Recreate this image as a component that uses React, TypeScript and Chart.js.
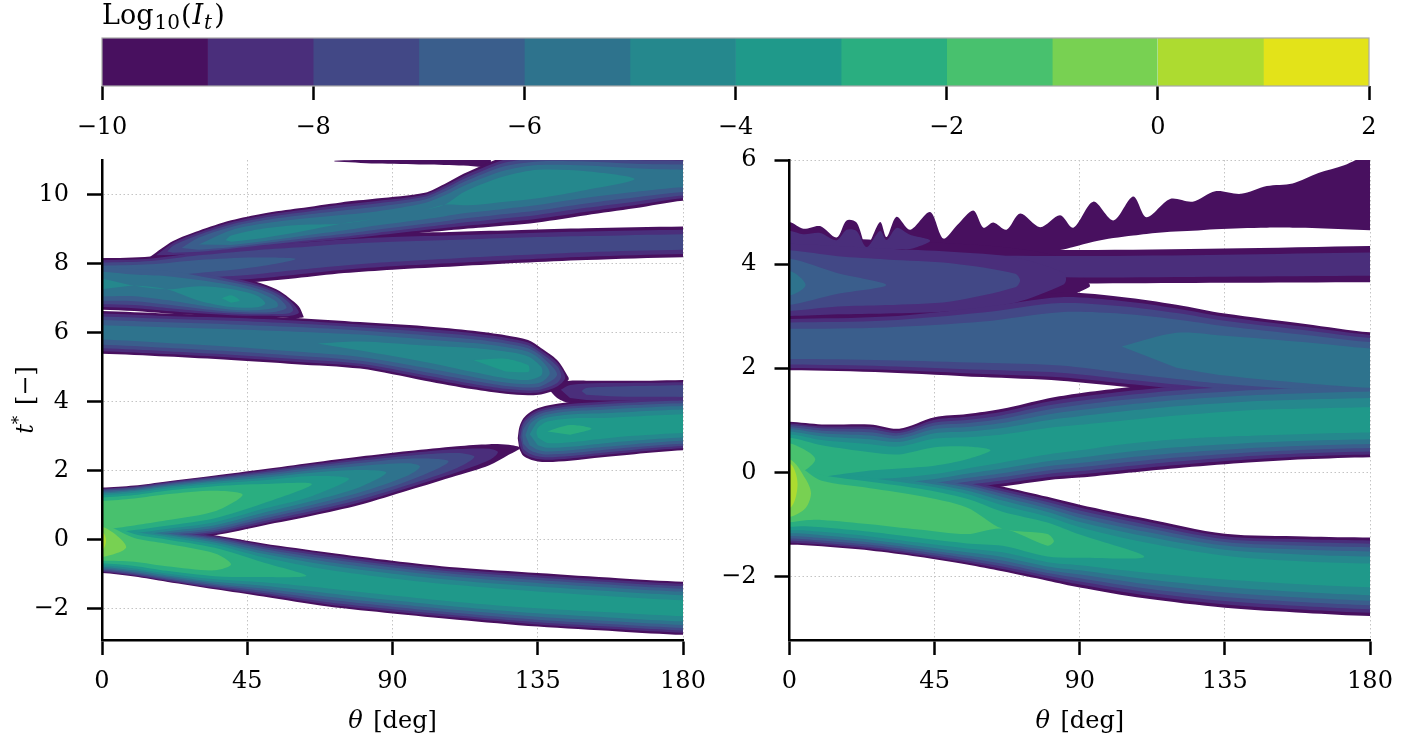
import React, { useEffect, useRef } from 'react';
import { Chart, registerables } from 'chart.js';

Chart.register(...registerables);

const FONT = "'DejaVu Serif', 'Liberation Serif', serif";
const TICK_SIZE = 24;
Chart.defaults.font.family = FONT;
Chart.defaults.color = '#000';

// ---------- colour levels (log10 intensity) ----------
const LEVEL_BOUNDS = [-10, -9, -8, -7, -6, -5, -4, -3, -2, -1, 0, 1, 2];
const LEVEL_COLORS = ['#48105f', '#4a2e7b', '#424886', '#3a5e8c', '#2e738d', '#25888d', '#1f998a', '#2aae80', '#48c16e', '#78d152', '#addb30', '#e3e319'];
const CB_TICKS = [-10, -8, -6, -4, -2, 0, 2];

// ---------- axes ----------
const THETA_RANGE = [0, 180];
const THETA_TICKS = [0, 45, 90, 135, 180];
const LEFT_T_TICKS = [-2, 0, 2, 4, 6, 8, 10];
const RIGHT_T_TICKS = [-2, 0, 2, 4, 6];
const LEFT_T_RANGE = [-2.92, 11];
const RIGHT_T_RANGE = [-3.22, 6];

// ---------- left panel branches (theta [deg], t* edges at log10 = -10, ridge, peak log10) ----------
const LA_TH = [0, 10, 20, 35, 50, 70, 90, 110, 135, 160, 180];
const LA_HI = [0.7, 0.45, 0.3, 0.12, -0.12, -0.38, -0.62, -0.82, -0.98, -1.13, -1.23];
const LA_LO = [-0.98, -1.08, -1.23, -1.45, -1.66, -1.95, -2.15, -2.33, -2.53, -2.67, -2.77];
const LA_MID = [0.0, -0.3, -0.45, -0.65, -0.88, -1.15, -1.38, -1.57, -1.76, -1.9, -2.0];
const LA_PK = [0.2, -1.4, -1.5, -1.7, -2.6, -3.2, -3.3, -3.3, -3.35, -3.4, -3.4];
const LA_E = [0.3, 0.3, 0.3, 0.35, 0.45, 0.5, 0.5, 0.5, 0.5, 0.5, 0.5];

const LB_TH = [0, 10, 20, 35, 50, 65, 80, 95, 110, 120, 126, 129.5];
const LB_HI = [1.5, 1.56, 1.68, 1.85, 2.03, 2.22, 2.4, 2.56, 2.7, 2.76, 2.74, 2.65];
const LB_LO = [-0.2, -0.1, 0.0, 0.12, 0.4, 0.68, 1.0, 1.42, 1.85, 2.15, 2.45, 2.65];
const LB_MID = [0.75, 0.85, 1.0, 1.18, 1.38, 1.6, 1.8, 2.05, 2.3, 2.47, 2.6, 2.65];
const LB_PK = [-1.2, -1.3, -1.4, -1.6, -2.3, -3.0, -4.3, -5.6, -7.3, -8.6, -9.5, -9.95];
const LB_E = [0.3, 0.3, 0.3, 0.35, 0.45, 0.5, 0.5, 0.5, 0.5, 0.5, 0.5, 0.5];

const LC_TH = [128.8, 129.3, 130.5, 132.5, 135, 138, 145, 155, 165, 180];
const LC_HI = [2.93, 3.25, 3.5, 3.68, 3.8, 3.88, 3.98, 4.05, 4.1, 4.15];
const LC_LO = [2.93, 2.62, 2.42, 2.32, 2.26, 2.24, 2.28, 2.38, 2.47, 2.58];
const LC_MID = [2.93, 2.95, 3.0, 3.05, 3.1, 3.13, 3.18, 3.22, 3.28, 3.35];
const LC_PK = [-10, -8.5, -6.5, -5.0, -3.8, -3.0, -2.8, -3.1, -3.2, -3.2];

const LD_TH = [138, 141, 145, 150, 160, 170, 180];
const LD_HI = [4.45, 4.55, 4.6, 4.6, 4.6, 4.6, 4.62];
const LD_LO = [4.4, 4.1, 3.95, 3.95, 3.95, 3.97, 3.98];
const LD_MID = [4.42, 4.35, 4.3, 4.3, 4.3, 4.3, 4.3];
const LD_PK = [-9.8, -9.2, -8.5, -7.8, -7.5, -7.3, -7.2];

const LE_TH = [0, 20, 40, 60, 80, 100, 115, 125, 132, 136, 141, 144.5];
const LE_HI = [6.62, 6.55, 6.5, 6.42, 6.3, 6.18, 6.05, 5.92, 5.78, 5.55, 5.2, 4.7];
const LE_LO = [5.38, 5.3, 5.2, 5.08, 4.95, 4.6, 4.35, 4.22, 4.18, 4.2, 4.35, 4.62];
const LE_MID = [6.0, 5.92, 5.83, 5.72, 5.6, 5.38, 5.2, 5.05, 4.95, 4.88, 4.78, 4.66];
const LE_PK = [-5.5, -5.4, -5.3, -5.1, -4.8, -4.5, -4.0, -3.7, -3.9, -4.8, -7.0, -9.8];

const LF_TH = [0, 10, 20, 30, 40, 48, 54, 58, 61, 62.5];
const LF_HI = [8.15, 8.15, 8.1, 7.9, 7.65, 7.46, 7.25, 7.0, 6.75, 6.45];
const LF_LO = [6.66, 6.62, 6.55, 6.5, 6.46, 6.44, 6.43, 6.42, 6.42, 6.44];
const LF_MID = [7.4, 7.35, 7.25, 7.1, 6.95, 6.87, 6.8, 6.7, 6.58, 6.45];
const LF_PK = [-4.8, -5.2, -5.0, -4.5, -3.8, -4.4, -5.8, -7.3, -9.0, -9.95];

const LG_TH = [0, 15, 30, 47, 60, 75, 90, 110, 130, 150, 180];
const LG_HI = [8.15, 8.2, 8.4, 8.6, 8.7, 8.8, 8.87, 8.92, 8.97, 9.02, 9.07];
const LG_LO = [7.3, 7.35, 7.4, 7.46, 7.57, 7.72, 7.82, 7.92, 8.02, 8.1, 8.18];
const LG_MID = [7.75, 7.8, 7.92, 8.03, 8.13, 8.24, 8.33, 8.42, 8.5, 8.56, 8.62];
const LG_PK = [-6.2, -6.3, -6.5, -6.8, -7.0, -7.0, -7.1, -7.2, -7.2, -7.3, -7.3];

const LH_TH = [15, 22, 30, 40, 50, 61, 74, 85, 100, 106, 112, 118, 125, 135, 150, 165, 180];
const LH_HI = [8.2, 8.65, 8.95, 9.25, 9.45, 9.6, 9.77, 9.88, 10.05, 10.3, 10.6, 10.85, 11.1, 11.2, 11.2, 11.15, 11.15];
const LH_LO = [8.15, 8.2, 8.25, 8.35, 8.45, 8.55, 8.65, 8.75, 8.9, 8.95, 9.0, 9.04, 9.1, 9.19, 9.4, 9.6, 9.82];
const LH_MID = [8.18, 8.4, 8.55, 8.7, 8.85, 9.0, 9.15, 9.3, 9.55, 9.7, 9.9, 10.05, 10.2, 10.38, 10.45, 10.45, 10.45];
const LH_PK = [-9.5, -7.5, -6.0, -4.8, -4.6, -4.8, -5.2, -5.4, -5.2, -5.0, -4.7, -4.4, -4.2, -4.0, -4.5, -5.0, -5.3];

const LI_TH = [72, 85, 100, 112, 120];
const LI_HI = [10.98, 11.02, 11.05, 11.1, 11.1];
const LI_LO = [10.96, 10.9, 10.87, 10.84, 10.82];
const LI_MID = [10.97, 10.96, 10.96, 10.97, 10.96];
const LI_PK = [-9.6, -9.6, -9.6, -9.6, -9.6];

// ---------- right panel branches ----------
const RA_TH = [0, 5, 10, 25, 40, 55, 66, 80, 90, 110, 135, 160, 180];
const RA_HI = [0.5, 0.35, 0.25, 0.12, 0.0, -0.13, -0.27, -0.47, -0.62, -0.88, -1.18, -1.23, -1.25];
const RA_LO = [-1.39, -1.4, -1.42, -1.5, -1.62, -1.77, -1.9, -2.08, -2.21, -2.42, -2.6, -2.7, -2.76];
const RA_MID = [-0.1, -0.35, -0.5, -0.62, -0.75, -0.92, -1.08, -1.3, -1.42, -1.62, -1.8, -1.92, -1.97];
const RA_PK = [0.8, -0.8, -1.4, -1.5, -1.6, -1.7, -2.2, -1.9, -2.4, -3.0, -3.3, -3.4, -3.4];
const RA_E = [0.3, 0.3, 0.3, 0.3, 0.3, 0.35, 0.4, 0.45, 0.5, 0.5, 0.5, 0.5, 0.5];

const RB_TH = [0, 10, 25, 34, 45, 55, 66, 80, 90, 103, 120, 140, 160, 180];
const RB_HI = [0.97, 0.92, 0.92, 0.84, 1.06, 1.12, 1.22, 1.42, 1.52, 1.62, 1.72, 1.8, 1.86, 1.9];
const RB_LO = [-0.6, -0.6, -0.55, -0.5, -0.42, -0.35, -0.27, -0.15, -0.1, -0.02, 0.08, 0.18, 0.25, 0.29];
const RB_MID = [0.25, 0.25, 0.22, 0.22, 0.3, 0.37, 0.45, 0.58, 0.65, 0.75, 0.85, 0.92, 0.95, 0.97];
const RB_PK = [-1.2, -2.2, -2.7, -2.8, -2.7, -2.8, -3.1, -3.3, -3.4, -3.5, -3.5, -3.4, -3.4, -3.4];
const RB_E = [0.35, 0.4, 0.45, 0.45, 0.45, 0.5, 0.5, 0.5, 0.5, 0.5, 0.5, 0.5, 0.5, 0.5];

const RC_TH = [0, 30, 60, 84, 103, 120, 135, 160, 180];
const RC_HI = [3.0, 3.05, 3.25, 3.45, 3.37, 3.22, 3.05, 2.85, 2.69];
const RC_LO = [1.96, 1.92, 1.83, 1.76, 1.65, 1.55, 1.48, 1.4, 1.35];
const RC_MID = [2.45, 2.45, 2.45, 2.5, 2.42, 2.32, 2.22, 2.08, 1.98];
const RC_PK = [-6.5, -6.5, -6.5, -6.3, -6.0, -5.8, -5.6, -5.4, -5.3];

const RD_TH = [0, 15, 30, 50, 70, 85, 93];
const RD_HI = [4.5, 4.5, 4.45, 4.4, 4.3, 4.1, 3.62];
const RD_LO = [2.92, 2.92, 2.93, 2.96, 3.1, 3.35, 3.56];
const RD_MID = [3.6, 3.6, 3.6, 3.62, 3.68, 3.72, 3.59];
const RD_PK = [-5.6, -6.8, -7.0, -7.3, -7.9, -8.9, -9.95];

const RE_TH = [0, 45, 90, 135, 180];
const RE_HI = [4.3, 4.28, 4.27, 4.3, 4.35];
const RE_LO = [3.7, 3.66, 3.63, 3.64, 3.65];
const RE_MID = [4.0, 3.97, 3.95, 3.97, 4.0];
const RE_PK = [-8.3, -8.3, -8.3, -8.3, -8.3];

const RT_TH = [0, 4.3, 9.5, 14.6, 17.7, 20.8, 23.9, 28.1, 30.1, 33.2, 37.4, 43.6, 47.7, 52, 57, 60.1, 63.2, 67.3, 71.5, 77.7, 83.9, 88, 94.2, 100.4, 106.6, 110.7, 118, 125, 132, 140, 148, 156, 164, 172, 180];
const RT_HI = [4.81, 4.68, 4.73, 4.51, 4.84, 4.8, 4.35, 4.81, 4.52, 4.91, 4.66, 5.0, 4.49, 4.75, 5.03, 4.7, 4.8, 4.66, 4.97, 4.71, 4.94, 4.7, 5.2, 4.84, 5.3, 4.9, 5.25, 5.2, 5.4, 5.35, 5.5, 5.55, 5.75, 5.9, 6.1];
const RT_LO = [4.15, 4.15, 4.15, 4.15, 4.15, 4.15, 4.15, 4.15, 4.15, 4.15, 4.15, 4.15, 4.15, 4.18, 4.18, 4.2, 4.2, 4.2, 4.22, 4.24, 4.27, 4.33, 4.43, 4.5, 4.55, 4.58, 4.62, 4.64, 4.67, 4.69, 4.7, 4.7, 4.69, 4.67, 4.65];
const RT_MID = [4.45, 4.45, 4.45, 4.4, 4.45, 4.45, 4.3, 4.45, 4.4, 4.45, 4.45, 4.45, 4.35, 4.45, 4.47, 4.48, 4.5, 4.5, 4.52, 4.52, 4.55, 4.58, 4.65, 4.7, 4.75, 4.78, 4.85, 4.9, 4.95, 5.0, 5.05, 5.1, 5.15, 5.2, 5.25];
const RT_PK = [-8.6, -8.6, -8.6, -8.6, -8.6, -8.6, -8.6, -8.6, -8.6, -8.6, -8.6, -9.0, -9.0, -9.0, -9.0, -9.0, -9.0, -9.0, -9.4, -9.4, -9.4, -9.4, -9.4, -9.4, -9.4, -9.4, -9.4, -9.4, -9.4, -9.4, -9.4, -9.4, -9.4, -9.4, -9.4];

type Branch = { th: number[]; hi: number[]; lo: number[]; mid: number[]; pk: number[]; e: number | number[] };
const br = (th: number[], hi: number[], lo: number[], mid: number[], pk: number[], e: number | number[] = 0.5): Branch => ({ th, hi, lo, mid, pk, e });

const LEFT_BRANCHES: Branch[] = [
  br(LA_TH, LA_HI, LA_LO, LA_MID, LA_PK, LA_E),
  br(LB_TH, LB_HI, LB_LO, LB_MID, LB_PK, LB_E),
  br(LC_TH, LC_HI, LC_LO, LC_MID, LC_PK),
  br(LD_TH, LD_HI, LD_LO, LD_MID, LD_PK),
  br(LE_TH, LE_HI, LE_LO, LE_MID, LE_PK),
  br(LF_TH, LF_HI, LF_LO, LF_MID, LF_PK),
  br(LG_TH, LG_HI, LG_LO, LG_MID, LG_PK),
  br(LH_TH, LH_HI, LH_LO, LH_MID, LH_PK),
  br(LI_TH, LI_HI, LI_LO, LI_MID, LI_PK),
];
const RIGHT_BRANCHES: Branch[] = [
  br(RA_TH, RA_HI, RA_LO, RA_MID, RA_PK, RA_E),
  br(RB_TH, RB_HI, RB_LO, RB_MID, RB_PK, RB_E),
  br(RC_TH, RC_HI, RC_LO, RC_MID, RC_PK, 0.3),
  br(RD_TH, RD_HI, RD_LO, RD_MID, RD_PK),
  br(RE_TH, RE_HI, RE_LO, RE_MID, RE_PK),
  br(RT_TH, RT_HI, RT_LO, RT_MID, RT_PK),
];

// ---------- contour-band polygons ----------
type Pt = { x: number; y: number };
const EDGE_RUN = 12; // bands that reach the plot edge run on past it (clipped away)
function bandPoints(b: Branch, level: number): Pt[] | null {
  const v = LEVEL_BOUNDS[level];
  const n = b.th.length;
  const ex = (i: number) => (Array.isArray(b.e) ? b.e[i] : b.e);
  const f = b.pk.map((p, i) => (p > v ? Math.pow((p - v) / (p + 10), ex(i)) : 0));
  const first = f.findIndex((x) => x > 0);
  if (first < 0) return null;
  let last = n - 1;
  while (f[last] <= 0) last--;
  const up: Pt[] = [];
  const dn: Pt[] = [];
  const tip = (i: number, j: number) => {
    const a = (v - b.pk[i]) / (b.pk[j] - b.pk[i]);
    const p = { x: b.th[i] + a * (b.th[j] - b.th[i]), y: b.mid[i] + a * (b.mid[j] - b.mid[i]) };
    up.push(p);
    dn.push({ ...p });
  };
  const edgeY = (i: number) => [b.mid[i] + (b.hi[i] - b.mid[i]) * f[i], b.mid[i] - (b.mid[i] - b.lo[i]) * f[i]];
  if (first > 0) tip(first - 1, first);
  else if (b.th[0] <= THETA_RANGE[0]) {
    const [yu, yd] = edgeY(0);
    up.push({ x: b.th[0] - EDGE_RUN, y: yu });
    dn.push({ x: b.th[0] - EDGE_RUN, y: yd });
  }
  for (let i = first; i <= last; i++) {
    const [yu, yd] = edgeY(i);
    up.push({ x: b.th[i], y: yu });
    dn.push({ x: b.th[i], y: yd });
  }
  if (last < n - 1) tip(last + 1, last);
  else if (b.th[n - 1] >= THETA_RANGE[1]) {
    const [yu, yd] = edgeY(n - 1);
    up.push({ x: b.th[n - 1] + EDGE_RUN, y: yu });
    dn.push({ x: b.th[n - 1] + EDGE_RUN, y: yd });
  }
  const raw = [...up, ...dn.reverse()];
  const pts: Pt[] = [];
  for (const p of raw) {
    const q = pts[pts.length - 1];
    if (!q || Math.abs(q.x - p.x) > 1e-9 || Math.abs(q.y - p.y) > 1e-9) pts.push(p);
  }
  const p0 = pts[0];
  const pl = pts[pts.length - 1];
  if (pts.length > 1 && Math.abs(p0.x - pl.x) < 1e-9 && Math.abs(p0.y - pl.y) < 1e-9) pts.pop();
  return pts.length > 2 ? pts : null;
}

function buildDatasets(branches: Branch[]) {
  const out: any[] = [];
  for (let level = LEVEL_COLORS.length - 1; level >= 0; level--) {
    for (const b of branches) {
      const pts = bandPoints(b, level);
      if (!pts) continue;
      out.push({
        data: pts,
        showLine: true,
        fill: 'shape',
        backgroundColor: LEVEL_COLORS[level],
        borderWidth: 0,
        pointRadius: 0,
        pointHoverRadius: 0,
        tension: 0.3,
      });
    }
  }
  return out;
}

// ---------- text helpers ----------
type Part = { t: string; s: number; it?: boolean; dy?: number; gap?: number };
const partFont = (p: Part) => `${p.it ? 'italic ' : ''}${p.s}px ${FONT}`;
function drawRich(ctx: CanvasRenderingContext2D, parts: Part[], x: number, y: number, align: 'left' | 'center', rot = 0) {
  ctx.save();
  ctx.translate(x, y);
  if (rot) ctx.rotate(rot);
  ctx.fillStyle = '#000';
  ctx.textBaseline = 'alphabetic';
  ctx.textAlign = 'left';
  let total = 0;
  for (const p of parts) {
    ctx.font = partFont(p);
    total += ctx.measureText(p.t).width + (p.gap || 0);
  }
  let cx = align === 'center' ? -total / 2 : 0;
  for (const p of parts) {
    ctx.font = partFont(p);
    ctx.fillText(p.t, cx, p.dy || 0);
    cx += ctx.measureText(p.t).width + (p.gap || 0);
  }
  ctx.restore();
}

const X_TITLE: Part[] = [{ t: 'θ', s: 24, it: true, gap: 3 }, { t: ' [deg]', s: 24 }];
const Y_TITLE: Part[] = [{ t: 't', s: 24, it: true }, { t: '*', s: 17, dy: -9, gap: 3 }, { t: ' [\u2212]', s: 24 }];
const CB_TITLE: Part[] = [
  { t: 'Log', s: 27, gap: 1 },
  { t: '10', s: 20, dy: 5, gap: 1 },
  { t: '(', s: 27, gap: 1 },
  { t: 'I', s: 27, it: true, gap: 1 },
  { t: 't', s: 20, it: true, dy: 5, gap: 2 },
  { t: ')', s: 27 },
];

const fmt = (v: any) => {
  const n = Number(v);
  return n < 0 ? '\u2212' + Math.abs(n) : String(n);
};
const zeroPad = (s: any) => {
  s.paddingLeft = 0;
  s.paddingRight = 0;
  s.paddingTop = 0;
  s.paddingBottom = 0;
};
const GRID_COLOR = '#c4c4c4';

function plotConfig(branches: Branch[], tRange: number[], tTicks: number[], yWidth: number, padRight: number, withYTitle: boolean) {
  const titles = {
    id: 'axisTitles',
    afterDraw(chart: any) {
      const { ctx, chartArea: ca } = chart;
      drawRich(ctx, X_TITLE, (ca.left + ca.right) / 2, ca.bottom + 88, 'center');
      if (withYTitle) drawRich(ctx, Y_TITLE, 33, (ca.top + ca.bottom) / 2, 'center', -Math.PI / 2);
    },
  };
  const common = {
    grid: { color: GRID_COLOR, lineWidth: 1, drawTicks: true, tickLength: 15, tickWidth: 2.5, tickColor: '#000' },
    border: { display: true, color: '#000', width: 2.5, dash: [1.5, 2.5], z: 1 },
  };
  return {
    type: 'scatter',
    data: { datasets: buildDatasets(branches) },
    options: {
      responsive: false,
      animation: false,
      events: [],
      layout: { padding: { left: 0, right: padRight, top: 20, bottom: 0 } },
      plugins: { legend: { display: false }, tooltip: { enabled: false }, title: { display: false } },
      scales: {
        x: {
          type: 'linear',
          position: 'bottom',
          min: THETA_RANGE[0],
          max: THETA_RANGE[1],
          afterBuildTicks: (s: any) => {
            s.ticks = THETA_TICKS.map((value) => ({ value }));
          },
          afterFit: (s: any) => {
            s.height = 110;
            zeroPad(s);
          },
          ...common,
          ticks: { color: '#000', font: { family: FONT, size: TICK_SIZE }, padding: 12, maxRotation: 0, autoSkip: false, callback: fmt },
        },
        y: {
          type: 'linear',
          position: 'left',
          min: tRange[0],
          max: tRange[1],
          afterBuildTicks: (s: any) => {
            s.ticks = tTicks.map((value) => ({ value }));
          },
          afterFit: (s: any) => {
            s.width = yWidth;
            zeroPad(s);
          },
          ...common,
          ticks: { color: '#000', font: { family: FONT, size: TICK_SIZE }, padding: 18, autoSkip: false, callback: fmt },
        },
      },
    },
    plugins: [titles],
  };
}

function colorbarConfig() {
  const deco = {
    id: 'cbDeco',
    afterDatasetsDraw(chart: any) {
      const { ctx, chartArea: ca } = chart;
      ctx.save();
      ctx.strokeStyle = '#a8a8a8';
      ctx.lineWidth = 1.2;
      ctx.strokeRect(ca.left, ca.top, ca.right - ca.left, ca.bottom - ca.top);
      ctx.restore();
    },
    afterDraw(chart: any) {
      drawRich(chart.ctx, CB_TITLE, chart.chartArea.left, 24, 'left');
    },
  };
  return {
    type: 'bar',
    data: {
      labels: [''],
      datasets: LEVEL_COLORS.map((c, i) => ({
        data: [[LEVEL_BOUNDS[i], LEVEL_BOUNDS[i + 1]]],
        backgroundColor: c,
        borderWidth: 0,
        grouped: false,
        barPercentage: 1,
        categoryPercentage: 1,
      })),
    },
    options: {
      indexAxis: 'y',
      responsive: false,
      animation: false,
      events: [],
      layout: { padding: { left: 102, right: 35, top: 38, bottom: 0 } },
      plugins: { legend: { display: false }, tooltip: { enabled: false } },
      scales: {
        x: {
          type: 'linear',
          position: 'bottom',
          min: LEVEL_BOUNDS[0],
          max: LEVEL_BOUNDS[LEVEL_BOUNDS.length - 1],
          afterBuildTicks: (s: any) => {
            s.ticks = CB_TICKS.map((value) => ({ value }));
          },
          afterFit: (s: any) => {
            s.height = 64;
            zeroPad(s);
          },
          grid: { drawOnChartArea: false, drawTicks: true, tickLength: 14, tickWidth: 2.5, tickColor: '#000', color: '#000' },
          border: { display: false },
          ticks: { color: '#000', font: { family: FONT, size: TICK_SIZE }, padding: 13, maxRotation: 0, autoSkip: false, callback: fmt },
        },
        y: {
          type: 'category',
          display: false,
        },
      },
    },
    plugins: [deco],
  };
}

function ChartBox({ make, left, top, width, height }: { make: () => any; left: number; top: number; width: number; height: number }) {
  const ref = useRef<HTMLCanvasElement>(null);
  useEffect(() => {
    const chart = new Chart(ref.current as HTMLCanvasElement, make());
    return () => chart.destroy();
  }, []);
  return <canvas ref={ref} width={width} height={height} style={{ position: 'absolute', left, top, width, height }} />;
}

export default function App() {
  return (
    <div style={{ position: 'absolute', left: 0, top: 0, width: 1404, height: 750, background: '#fff', overflow: 'hidden' }}>
      <ChartBox make={colorbarConfig} left={0} top={0} width={1404} height={150} />
      <ChartBox make={() => plotConfig(LEFT_BRANCHES, LEFT_T_RANGE, LEFT_T_TICKS, 102, 37, true)} left={0} top={140} width={720} height={610} />
      <ChartBox make={() => plotConfig(RIGHT_BRANCHES, RIGHT_T_RANGE, RIGHT_T_TICKS, 89.5, 34, false)} left={700} top={140} width={704} height={610} />
    </div>
  );
}
